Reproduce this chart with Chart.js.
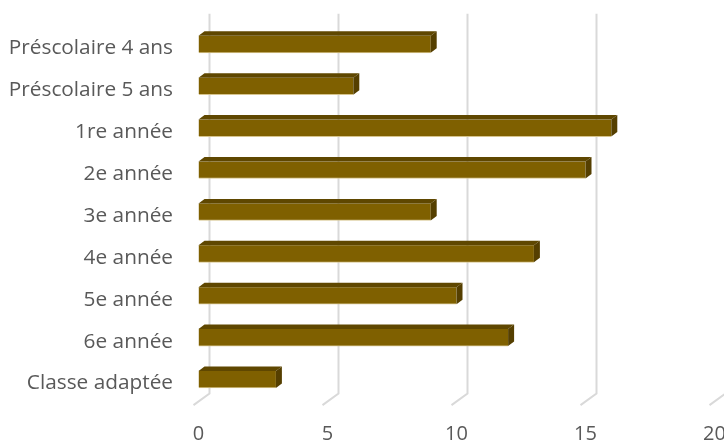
<!DOCTYPE html>
<html>
<head>
<meta charset="utf-8">
<script src="https://cdn.jsdelivr.net/npm/chart.js@4/dist/chart.umd.min.js"></script>
<style>
  html, body { margin: 0; padding: 0; background: #ffffff; overflow: hidden; }
  #wrap { width: 724px; height: 446px; overflow: hidden; position: relative; }
  canvas { display: block; }
</style>
</head>
<body>
<div id="wrap"><canvas id="c" width="730" height="446"></canvas></div>
<script>
const categories = ["Préscolaire 4 ans", "Préscolaire 5 ans", "1re année", "2e année", "3e année", "4e année", "5e année", "6e année", "Classe adaptée"];
const values = [9, 6, 16, 15, 9, 13, 10, 12, 3];
const xTicks = [0, 5, 10, 15, 20];

const FRONT = '#7F6000', TOP = '#5F4700', SIDE = '#553F00';
const DX = 6, DY = 4.5;

const gridPlugin = {
  id: 'grid3d',
  beforeDatasetsDraw(chart) {
    const ctx = chart.ctx, xs = chart.scales.x, area = chart.chartArea;
    ctx.save();
    ctx.strokeStyle = '#d9d9d9';
    ctx.lineWidth = 2;
    ctx.lineJoin = 'miter';
    xTicks.forEach(v => {
      const xb = xs.getPixelForValue(v) + 11;
      ctx.beginPath();
      ctx.moveTo(xb, area.top - 9.5);
      ctx.lineTo(xb, area.bottom - 7);
      ctx.lineTo(xb - 16, area.bottom + 4.7);
      ctx.stroke();
    });
    ctx.restore();
  }
};

const barPlugin = {
  id: 'bar3d',
  afterDatasetsDraw(chart) {
    const ctx = chart.ctx;
    const meta = chart.getDatasetMeta(0);
    ctx.save();
    meta.data.forEach(el => {
      const p = el.getProps(['x', 'y', 'base', 'height'], true);
      const top = p.y - p.height / 2, bot = p.y + p.height / 2;
      const x0 = p.base, x1 = p.x;
      ctx.fillStyle = TOP;
      ctx.beginPath();
      ctx.moveTo(x0, top);
      ctx.lineTo(x0 + DX, top - DY);
      ctx.lineTo(x1 + DX, top - DY);
      ctx.lineTo(x1, top);
      ctx.closePath();
      ctx.fill();
      ctx.fillStyle = SIDE;
      ctx.beginPath();
      ctx.moveTo(x1, top);
      ctx.lineTo(x1 + DX, top - DY);
      ctx.lineTo(x1 + DX, bot - DY);
      ctx.lineTo(x1, bot);
      ctx.closePath();
      ctx.fill();
    });
    ctx.restore();
  }
};

new Chart(document.getElementById('c'), {
  type: 'bar',
  data: {
    labels: categories,
    datasets: [{
      data: values,
      backgroundColor: FRONT,
      borderColor: '#d6c48e',
      borderWidth: { top: 0, right: 0, bottom: 1, left: 0 },
      borderSkipped: false,
      barThickness: 17
    }]
  },
  options: {
    indexAxis: 'y',
    responsive: false,
    animation: false,
    devicePixelRatio: 1,
    layout: { padding: { left: 0, right: 15.5, top: 23.35, bottom: 0 } },
    plugins: { legend: { display: false }, tooltip: { enabled: false } },
    scales: {
      x: {
        min: 0, max: 20,
        afterBuildTicks(scale) { scale.ticks = xTicks.map(v => ({ value: v })); },
        afterFit(scale) { scale.height = 45.55; scale.paddingLeft = 0; scale.paddingRight = 0; },
        grid: { display: false, drawTicks: false },
        border: { display: false },
        ticks: { padding: 22, color: '#595959', font: { family: 'Open Sans', size: 20 } }
      },
      y: {
        afterFit(scale) { scale.width = 198.5; scale.paddingTop = 0; scale.paddingBottom = 0; },
        grid: { display: false, drawTicks: false },
        border: { display: false },
        ticks: { padding: 25.5, labelOffset: 4, color: '#595959', font: { family: 'Open Sans', size: 20.8 } }
      }
    }
  },
  plugins: [gridPlugin, barPlugin]
});
</script>
</body>
</html>
